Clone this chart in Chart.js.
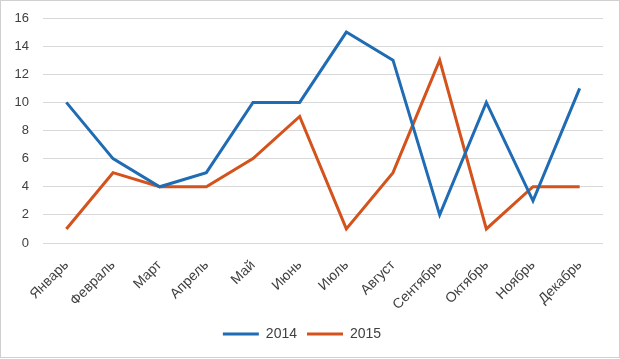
<!DOCTYPE html>
<html>
<head>
<meta charset="utf-8">
<script src="https://cdn.jsdelivr.net/npm/chart.js@4/dist/chart.umd.min.js"></script>
<style>
  html, body { margin: 0; padding: 0; background: #fff; }
  #wrap { position: relative; width: 618px; height: 356px; border: 1px solid #d0d0d0; }
</style>
</head>
<body>
<div id="wrap"><canvas id="chart"></canvas></div>
<script>
// Months on the x axis
const months = ['Январь', 'Февраль', 'Март', 'Апрель', 'Май', 'Июнь', 'Июль', 'Август', 'Сентябрь', 'Октябрь', 'Ноябрь', 'Декабрь'];

// Series values
const values2014 = [10, 6, 4, 5, 10, 10, 15, 13, 2, 10, 3, 11];
const values2015 = [1, 5, 4, 4, 6, 9, 1, 5, 13, 1, 4, 4];

// Y tick range
const yMin = 0;
const yMax = 16;
const yStep = 2;

const textColor = '#404040';
const gridColor = '#d9d9d9';
const fontFamily = '"Liberation Sans", sans-serif';

const ctx = document.getElementById('chart').getContext('2d');
new Chart(ctx, {
    type: 'line',
    data: {
        labels: months,
        datasets: [
            {
                label: '2014',
                data: values2014,
                borderColor: '#1f6cb4',
                backgroundColor: '#1f6cb4',
                borderWidth: 3,
                pointRadius: 0,
                tension: 0
            },
            {
                label: '2015',
                data: values2015,
                borderColor: '#d4521b',
                backgroundColor: '#d4521b',
                borderWidth: 3,
                pointRadius: 0,
                tension: 0
            }
        ]
    },
    options: {
        responsive: true,
        maintainAspectRatio: false,
        animation: false,
        layout: { padding: { top: 17, right: 16, bottom: 6, left: 0 } },
        plugins: {
            tooltip: { enabled: false },
            legend: {
                position: 'bottom',
                labels: {
                    color: textColor,
                    font: { family: fontFamily, size: 14 },
                    usePointStyle: true,
                    pointStyle: 'line',
                    pointStyleWidth: 36,
                    boxHeight: 3,
                    padding: 10
                }
            }
        },
        scales: {
            x: {
                offset: true,
                grid: { display: false },
                border: { display: false },
                ticks: {
                    color: textColor,
                    font: { family: fontFamily, size: 14 },
                    maxRotation: 45,
                    minRotation: 45,
                    padding: 6
                },
                afterFit: (scale) => { scale.height = 74; }
            },
            y: {
                min: yMin,
                max: yMax,
                grid: { color: gridColor, lineWidth: 1, drawTicks: false },
                border: { display: false },
                ticks: {
                    stepSize: yStep,
                    color: textColor,
                    font: { family: fontFamily, size: 13 },
                    padding: 14
                },
                afterFit: (scale) => { scale.width = 42; scale.paddingTop = 0; }
            }
        }
    }
});
</script>
</body>
</html>
